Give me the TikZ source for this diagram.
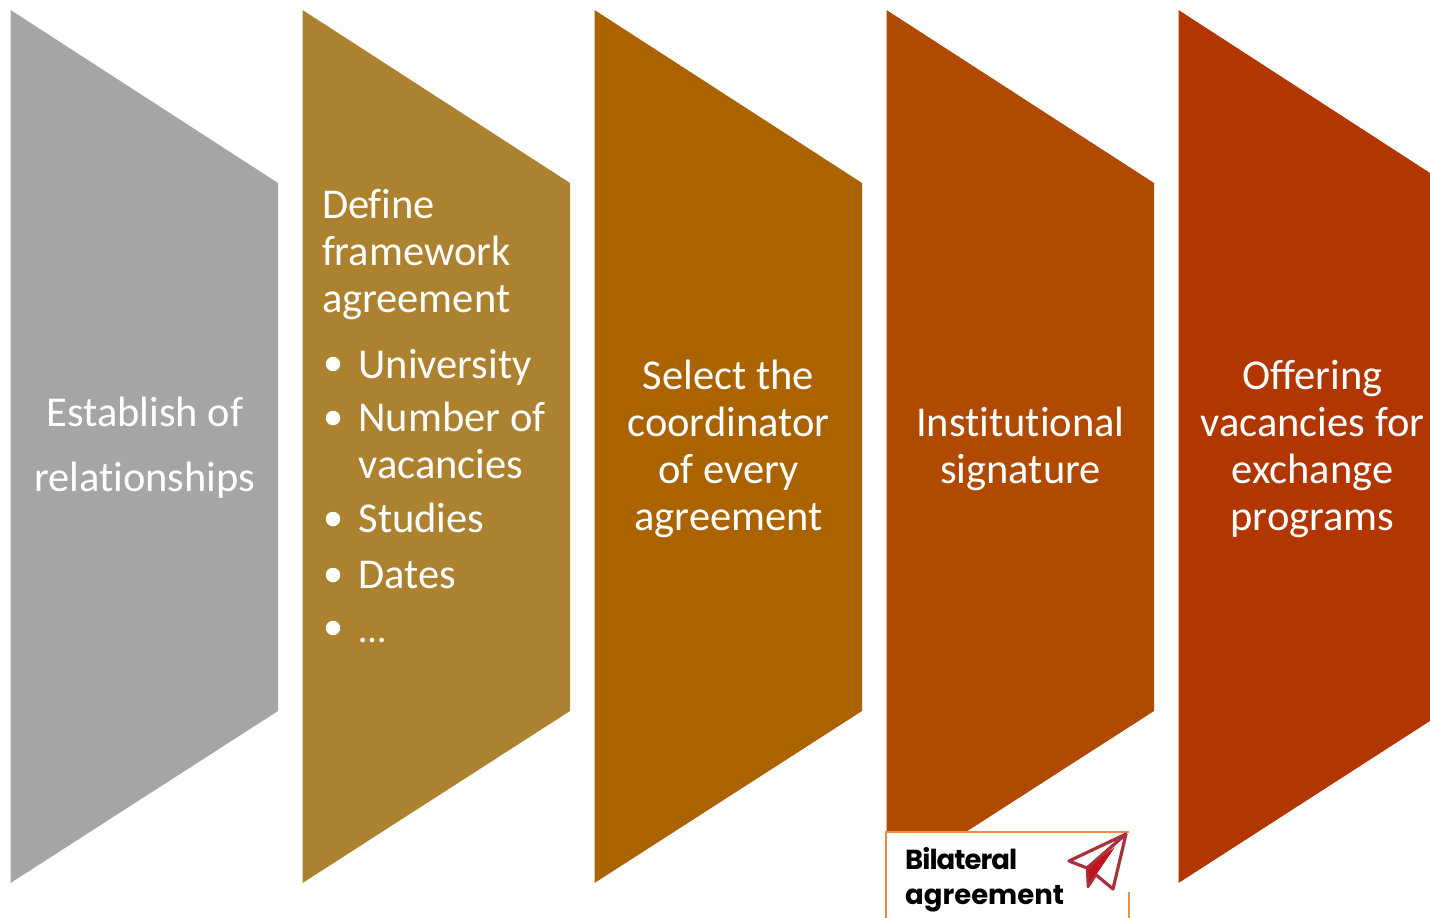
\documentclass[tikz,border=0pt]{standalone}
\usepackage{fontspec}
\setmainfont[Ligatures=NoCommon]{Carlito}
\newfontfamily\gothic{Poppins}
\definecolor{cgray}{HTML}{A5A5A5}
\definecolor{cgold}{HTML}{AC8231}
\definecolor{cochre}{HTML}{AB6300}
\definecolor{crust}{HTML}{AF4A00}
\definecolor{cred}{HTML}{B13600}
\definecolor{cedge}{HTML}{F08A45}
\definecolor{cplane}{HTML}{A8323A}
\definecolor{cplanefill}{HTML}{C0141E}
\tikzset{
  x=1pt,y=-1pt,
  chevron/.style={draw=none},
  lbl/.style={text=white,font=\fontsize{42.5}{47}\selectfont,inner sep=0pt,outer sep=0pt},
  centerlbl/.style={lbl,align=center,anchor=north},
  leftlbl/.style={lbl,align=left,anchor=north west},
  dotmark/.style={circle,fill=white,inner sep=0pt,minimum size=14.5pt},
  boxtext/.style={text=black,font=\gothic\bfseries\fontsize{27.5}{35}\selectfont,align=left,anchor=north west,inner sep=0pt}
}
\begin{document}
\begin{tikzpicture}
\useasboundingbox (0,0) rectangle (1430,918);
\fill[white] (0,0) rectangle (1430,918);
% chevrons
\fill[chevron,cgray] (10.5,10) -- (278,183) -- (278,711) -- (10.5,883) -- cycle;
\fill[chevron,cgold] (302.5,10) -- (570,183) -- (570,711) -- (302.5,883) -- cycle;
\fill[chevron,cochre] (594.5,10) -- (862,183) -- (862,711) -- (594.5,883) -- cycle;
\fill[chevron,crust] (886.5,10) -- (1154,183) -- (1154,711) -- (886.5,883) -- cycle;
\fill[chevron,cred] (1178.5,10) -- (1430,173) -- (1430,721) -- (1178.5,883) -- cycle;
% texts
\node[centerlbl,font=\fontsize{42.5}{65}\selectfont] (t1) at (144.8,397) {Establish of\\relationships};
\node[leftlbl] (t2) at (322,189) {Define\\framework\\agreement};
\node[lbl,anchor=base west] (i1) at (358.5,378) {University};
\node[lbl,anchor=north west,align=left] (i2) at (358.5,402) {Number of\\vacancies};
\node[lbl,anchor=base west] (i3) at (358.5,532) {Studies};
\node[lbl,anchor=base west] (i4) at (358.5,588) {Dates};
\node[lbl,anchor=base west,font=\fontsize{38}{47}\selectfont] (i5) at (359,642) {…};
\node[dotmark] (d1) at (333,364) {};
\node[dotmark] (d2) at (333,418) {};
\node[dotmark] (d3) at (333,519) {};
\node[dotmark] (d4) at (333,575) {};
\node[dotmark] (d5) at (333,628) {};
\node[centerlbl] (t3) at (728.5,360) {Select the\\coordinator\\of every\\agreement};
\node[centerlbl] (t4) at (1020.5,407) {Institutional\\signature};
\node[centerlbl] (t5) at (1312.5,360) {Offering\\vacancies for\\exchange\\programs};
% inset
\fill[white] (885,831) rectangle (1129,918);
\draw[cedge,line width=2pt] (885.5,918) -- (885.5,831.5) -- (1128.5,831.5);
\draw[cedge,line width=2pt] (1128.5,892) -- (1128.5,918);
\node[boxtext] (b) at (905,847) {{\addfontfeature{LetterSpace=-3.5}Bilateral}\\agreement};
% plane
\fill[cplanefill] (1115,847) -- (1087,867) -- (1088,887) -- (1096,875) -- cycle;
\draw[cplane,line width=3.2pt,line join=round] (1126,834) -- (1069,861) -- (1087,868) -- (1126,834) -- (1113,889) -- (1095,874);
\draw[cplane,line width=2.5pt,line join=round] (1087,868) -- (1088,887) -- (1096,875);
\end{tikzpicture}
\end{document}
